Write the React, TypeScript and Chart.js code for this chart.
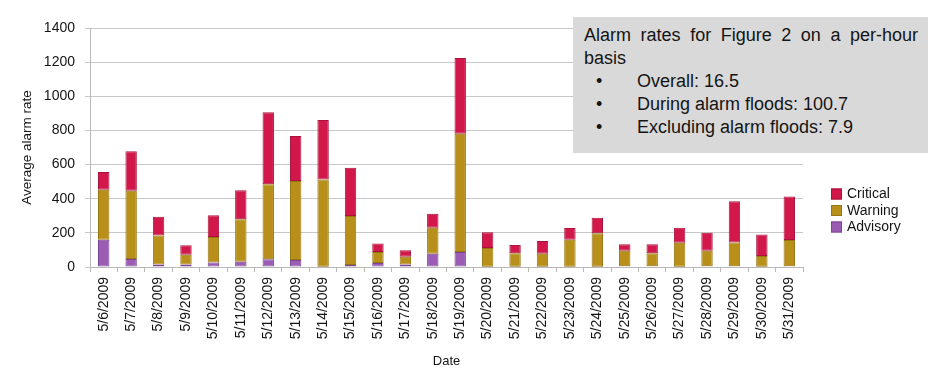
import React, { useEffect, useRef } from 'react';
import { Chart, registerables } from 'chart.js';

Chart.register(...registerables);

const dates = [
  '5/6/2009', '5/7/2009', '5/8/2009', '5/9/2009', '5/10/2009', '5/11/2009', '5/12/2009',
  '5/13/2009', '5/14/2009', '5/15/2009', '5/16/2009', '5/17/2009', '5/18/2009', '5/19/2009',
  '5/20/2009', '5/21/2009', '5/22/2009', '5/23/2009', '5/24/2009', '5/25/2009', '5/26/2009',
  '5/27/2009', '5/28/2009', '5/29/2009', '5/30/2009', '5/31/2009',
];
const advisory = [160, 47, 14, 14, 27, 31, 45, 41, 2, 12, 23, 14, 78, 88, 2, 2, 2, 2, 2, 5, 4, 2, 5, 5, 2, 5];
const warning = [293, 400, 170, 58, 149, 248, 439, 463, 510, 287, 65, 46, 152, 693, 109, 78, 76, 158, 196, 90, 76, 140, 90, 139, 62, 153];
const critical = [103, 231, 111, 55, 127, 170, 422, 263, 349, 283, 49, 38, 82, 443, 92, 49, 75, 69, 90, 38, 53, 88, 105, 241, 126, 255];

const seriesNames = ['Advisory', 'Warning', 'Critical'];
const legendOrder = ['Critical', 'Warning', 'Advisory'];
const yAxisTitle = 'Average alarm rate';
const xAxisTitle = 'Date';
const yMax = 1400;
const yStep = 200;

const summaryTitle = 'Alarm rates for Figure 2 on a per-hour basis';
const summaryItems = ['Overall: 16.5', 'During alarm floods: 100.7', 'Excluding alarm floods: 7.9'];

const FONT = "'Liberation Sans', Arial, Helvetica, sans-serif";
const TEXT = '#141414';

const fills: Record<string, string> = {
  Critical: '#d2174a',
  Warning: '#b88f18',
  Advisory: '#9b5cb4',
};
const borders: Record<string, string> = {
  Critical: '#a8143c',
  Warning: '#977512',
  Advisory: '#7d4596',
};

const customLegend = {
  id: 'customLegend',
  afterDraw(chart: any) {
    const ctx = chart.ctx;
    ctx.save();
    ctx.font = `14px ${FONT}`;
    ctx.textBaseline = 'middle';
    ctx.textAlign = 'left';
    const x0 = 831;
    const y0 = 194;
    const rowH = 16.5;
    legendOrder.forEach((name, i) => {
      const ds = chart.data.datasets.find((d: any) => d.label === name);
      if (!ds) return;
      const cy = y0 + i * rowH;
      ctx.fillStyle = ds.backgroundColor;
      ctx.fillRect(x0, cy - 5.5, 11, 11);
      ctx.strokeStyle = ds.borderColor;
      ctx.lineWidth = 1;
      ctx.strokeRect(x0 + 0.5, cy - 5, 10, 10);
      ctx.fillStyle = TEXT;
      ctx.fillText(name, x0 + 16, cy + 0.5);
    });
    ctx.restore();
  },
};

export default function App() {
  const canvasRef = useRef<HTMLCanvasElement | null>(null);

  useEffect(() => {
    document.body.style.margin = '0';
    const canvas = canvasRef.current;
    if (!canvas) return;
    const values: Record<string, number[]> = {
      Advisory: advisory,
      Warning: warning,
      Critical: critical,
    };
    const chart = new Chart(canvas, {
      type: 'bar',
      data: {
        labels: dates,
        datasets: seriesNames.map((name) => ({
          label: name,
          data: values[name],
          backgroundColor: fills[name],
          borderColor: borders[name],
          borderWidth: 1,
          borderSkipped: false,
          categoryPercentage: 0.8,
          barPercentage: 0.52,
        })),
      },
      options: {
        responsive: false,
        animation: false,
        devicePixelRatio: 1,
        layout: { padding: { top: 28, right: 141, left: 0, bottom: 0 } },
        plugins: {
          legend: { display: false },
          tooltip: { enabled: false },
        },
        scales: {
          x: {
            stacked: true,
            grid: {
              display: true,
              drawOnChartArea: false,
              drawTicks: true,
              tickLength: 5,
              offset: true,
              color: '#b8b8b8',
            },
            border: { display: true, color: '#b8b8b8', width: 1 },
            ticks: {
              autoSkip: false,
              minRotation: 90,
              maxRotation: 90,
              padding: 5,
              color: TEXT,
              font: { family: FONT, size: 14 },
            },
            title: {
              display: true,
              text: xAxisTitle,
              color: TEXT,
              font: { family: FONT, size: 13 },
              padding: { top: 0, bottom: 19 },
            },
            afterFit: (scale: any) => {
              scale.height = 121;
            },
          },
          y: {
            stacked: true,
            min: 0,
            max: yMax,
            grid: {
              color: '#c8c8c8',
              lineWidth: 1,
              drawTicks: true,
              tickLength: 5,
            },
            border: { display: true, color: '#b8b8b8', width: 1 },
            ticks: {
              stepSize: yStep,
              padding: 10,
              color: TEXT,
              font: { family: FONT, size: 14 },
              callback: (v: any) => String(v),
            },
            title: {
              display: true,
              text: yAxisTitle,
              color: TEXT,
              font: { family: FONT, size: 13.5 },
              padding: { top: 19, bottom: 0 },
            },
            afterFit: (scale: any) => {
              scale.width = 90;
            },
          },
        },
      },
      plugins: [customLegend],
    });
    return () => chart.destroy();
  }, []);

  return (
    <div style={{ position: 'relative', width: 944, height: 388, background: '#fff', overflow: 'hidden' }}>
      <canvas ref={canvasRef} width={944} height={388} style={{ width: 944, height: 388, display: 'block' }} />
      <div
        style={{
          position: 'absolute',
          left: 573,
          top: 17,
          width: 355,
          height: 136,
          boxSizing: 'border-box',
          background: '#d9d9d9',
          padding: '7px 10px 0 11px',
          fontFamily: FONT,
          fontSize: 18,
          lineHeight: '23px',
          color: TEXT,
        }}
      >
        <div style={{ textAlign: 'justify' }}>{summaryTitle}</div>
        {summaryItems.map((item) => (
          <div key={item} style={{ display: 'flex' }}>
            <span style={{ width: 53, paddingLeft: 12, boxSizing: 'border-box', flex: 'none' }}>•</span>
            <span>{item}</span>
          </div>
        ))}
      </div>
    </div>
  );
}
